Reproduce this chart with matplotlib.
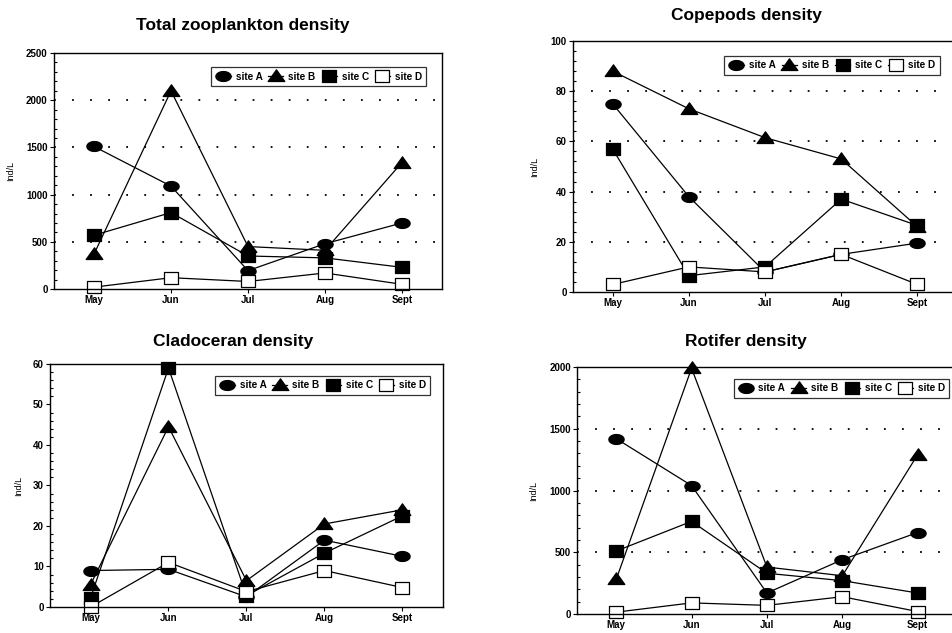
import numpy as np
import matplotlib
matplotlib.use("Agg")
from matplotlib import pyplot as plt
from matplotlib.path import Path
from matplotlib.ticker import MultipleLocator, AutoMinorLocator

plt.rcParams['font.family'] = ['Liberation Sans', 'DejaVu Sans']

months = ["May", "Jun", "Jul", "Aug", "Sept"]
sites = ["site A", "site B", "site C", "site D"]

# values (Ind/L)
total_a = [1510, 1090, 195, 480, 700]
total_b = [370, 2100, 450, 410, 1340]
total_c = [570, 810, 350, 330, 230]
total_d = [20, 120, 80, 170, 50]

cope_a = [75, 38, 8, 15, 19.5]
cope_b = [88, 73, 61.5, 53, 26]
cope_c = [57, 6.5, 10, 37, 26.5]
cope_d = [3, 10, 8, 15, 3]

clad_a = [9, 9.3, 2.5, 16.5, 12.5]
clad_b = [5.5, 44.5, 6.5, 20.5, 24]
clad_c = [2.2, 59, 2.8, 13.3, 22.5]
clad_d = [0, 11, 3.8, 9, 4.8]

roti_a = [1420, 1040, 170, 440, 660]
roti_b = [280, 1990, 380, 310, 1290]
roti_c = [510, 750, 330, 270, 170]
roti_d = [15, 90, 70, 140, 20]

# marker shapes: flat ellipse, wide triangle, wide squares
t = np.linspace(0, 2 * np.pi, 40)
ellipse = Path(np.column_stack([np.cos(t), 0.65 * np.sin(t)]), closed=True)
tri = Path([(0, 0.8), (-1, -0.6), (1, -0.6), (0, 0.8)], closed=True)
sq = Path([(-1, -0.85), (1, -0.85), (1, 0.85), (-1, 0.85), (-1, -0.85)], closed=True)

styles = [
    dict(marker=ellipse, mfc="black", ms=11),
    dict(marker=tri, mfc="black", ms=12),
    dict(marker=sq, mfc="black", ms=10.5),
    dict(marker=sq, mfc="white", ms=10.5),
]

panels = [
    # title, data, ymax, ystep, axes rect, title pos, grid, legend anchor, ylabel x
    ("Total zooplankton density", [total_a, total_b, total_c, total_d], 2500, 500,
     [0.0567, 0.5434, 0.4076, 0.3728], (0.255, 0.960), True, (0.960, 0.940), -0.10),
    ("Copepods density", [cope_a, cope_b, cope_c, cope_d], 100, 20,
     [0.6019, 0.5387, 0.4034, 0.3965], (0.784, 0.976), True, (0.955, 0.942), -0.089),
    ("Cladoceran density", [clad_a, clad_b, clad_c, clad_d], 60, 10,
     [0.0525, 0.0411, 0.4128, 0.3839], (0.245, 0.460), False, (0.968, 0.952), -0.069),
    ("Rotifer density", [roti_a, roti_b, roti_c, roti_d], 2000, 500,
     [0.6061, 0.0300, 0.3990, 0.3902], (0.783, 0.460), True, (0.980, 0.952), -0.103),
]

fig = plt.figure(figsize=(9.52, 6.33), dpi=100)
x = np.arange(len(months))

for title, data, ymax, ystep, rect, tpos, grid, lpos, labx in panels:
    ax = fig.add_axes(rect)
    for vals, name, st in zip(data, sites, styles):
        ax.plot(x, vals, color="black", lw=0.9, mec="black", mew=0.9,
                label=name, clip_on=False, **st)
    ax.set_xlim(-0.52, 4.52)
    ax.set_ylim(0, ymax)
    ax.set_xticks(x)
    ax.set_xticklabels(months, fontsize=7, fontweight="bold")
    ax.yaxis.set_major_locator(MultipleLocator(ystep))
    ax.yaxis.set_minor_locator(AutoMinorLocator(5))
    for lab in ax.get_yticklabels():
        lab.set_fontsize(7)
        lab.set_fontweight("bold")
    ax.tick_params(axis="both", which="major", direction="out", length=3, width=0.8, pad=1.5)
    ax.tick_params(axis="y", which="minor", direction="in", length=2, width=0.8)
    for sp in ax.spines.values():
        sp.set_linewidth(1.0)
    if grid:
        for yv in np.arange(ystep, ymax, ystep):
            ax.axhline(yv, color="black", lw=1.3, ls=(0, (1, 9)), zorder=0)
    ax.set_ylabel("Ind/L", fontsize=6.5)
    ax.yaxis.set_label_coords(labx, 0.5)
    leg = ax.legend(loc="upper right", bbox_to_anchor=lpos, ncol=4, fontsize=7.2,
                    frameon=True, fancybox=False, edgecolor="black",
                    handlelength=1.5, handletextpad=0.5, columnspacing=0.6,
                    borderpad=0.45, borderaxespad=0)
    leg.get_frame().set_linewidth(0.9)
    for txt in leg.get_texts():
        txt.set_fontweight("bold")
    fig.text(tpos[0], tpos[1], title, ha="center", va="center",
             fontsize=12.5, fontweight="bold")

fig.savefig("out.png", dpi=100)
